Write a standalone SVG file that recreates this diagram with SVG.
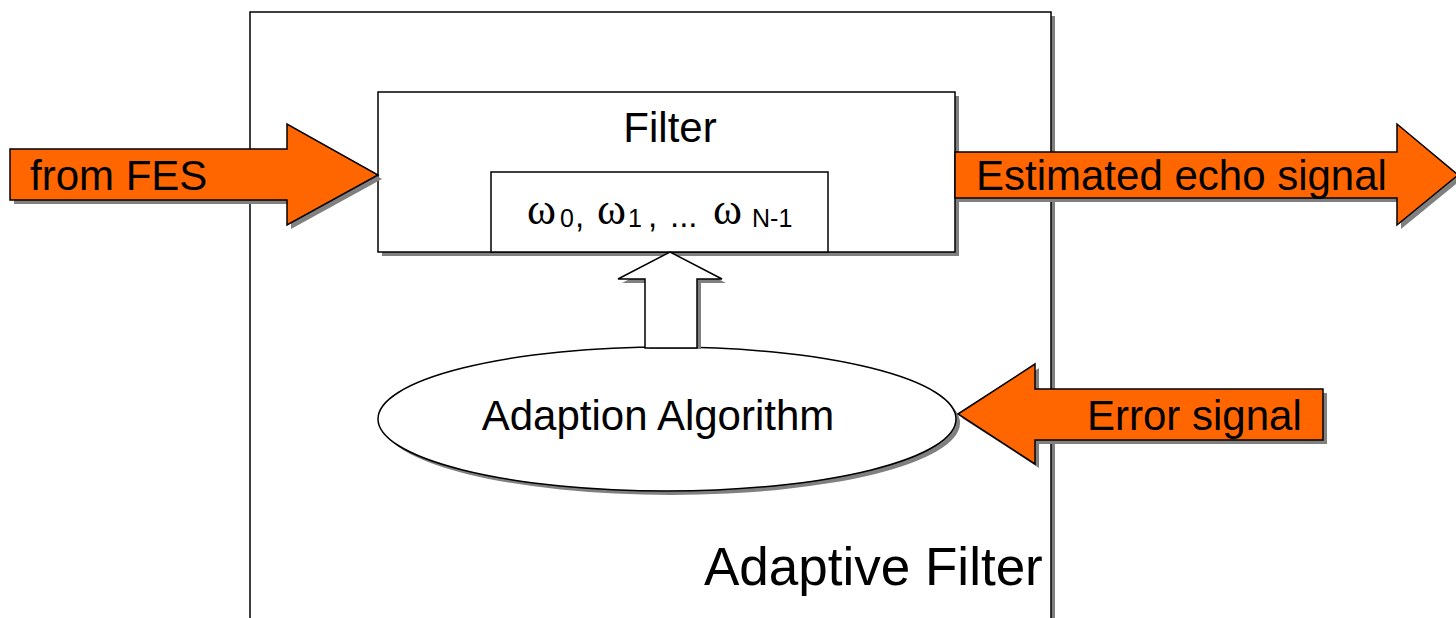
<svg xmlns="http://www.w3.org/2000/svg" width="1456" height="618" viewBox="0 0 1456 618">
  <style>
    .box { fill: #ffffff; stroke: #000000; stroke-width: 1.5; }
    .shadow { fill: #808080; stroke: none; }
    .flow { fill: #ff6600; stroke: #000000; stroke-width: 1.5; stroke-linejoin: miter; }
    .label { font-family: "Liberation Sans", Arial, sans-serif; font-size: 42px; fill: #000000; }
    .title { font-size: 53px; }
    .greek { font-family: "Liberation Serif", "Times New Roman", serif; font-size: 44px; }
    .sub { font-size: 25px; }
    .punct { font-size: 33px; }
  </style>
  <rect width="1456" height="618" fill="#ffffff"/>

  <!-- outer adaptive filter frame -->
  <g id="adaptive-filter">
    <rect class="shadow" x="254" y="16" width="801" height="610"/>
    <rect class="box" x="250" y="12" width="801" height="610"/>
    <text class="label title" x="704" y="585">Adaptive Filter</text>
  </g>

  <!-- filter block with its weight vector -->
  <g id="filter">
    <rect class="shadow" x="382" y="96" width="577" height="160"/>
    <rect class="box" x="378" y="92" width="577" height="160"/>
    <text class="label" x="670" y="142" text-anchor="middle">Filter</text>
  </g>
  <g id="weights">
    <rect class="box" x="491" y="172" width="337" height="80"/>
    <text class="label" y="224"><tspan class="greek" x="527">ω</tspan><tspan class="sub" x="560" y="227">0</tspan><tspan class="punct" x="575" y="227">,</tspan><tspan class="greek" x="597" y="224">ω</tspan><tspan class="sub" x="628" y="227">1</tspan><tspan class="punct" x="648" y="227">,</tspan><tspan class="punct" x="670" y="227">...</tspan><tspan class="greek" x="713" y="224">ω</tspan><tspan class="sub" x="752" y="227">N-1</tspan></text>
  </g>

  <!-- adaption algorithm -->
  <g id="adaption-algorithm">
    <ellipse class="shadow" cx="671" cy="423" rx="289" ry="72"/>
    <ellipse class="box" cx="667" cy="419" rx="289" ry="72"/>
    <text class="label" x="658" y="430" text-anchor="middle">Adaption Algorithm</text>
  </g>

  <!-- connectors -->
  <g id="connectors">
    <!-- weight update arrow -->
    <path class="shadow" d="M 674 256 L 726 283 L 701 283 L 701 349 L 649 349 L 649 283 L 622 283 Z"/>
    <path class="box" d="M 670 252 L 722 279 L 697 279 L 697 348 L 645 348 L 645 279 L 618 279 Z"/>

    <!-- input: from FES -->
    <path class="shadow" d="M 14 153 L 291 153 L 291 128 L 382 179 L 291 229 L 291 204 L 14 204 Z"/>
    <path class="flow" d="M 10 149 L 287 149 L 287 124 L 378 175 L 287 225 L 287 200 L 10 200 Z"/>
    <text class="label" x="30" y="190">from FES</text>

    <!-- output: estimated echo signal -->
    <path class="shadow" d="M 959 156 L 1401 156 L 1401 128 L 1462 179 L 1401 229 L 1401 202 L 959 202 Z"/>
    <path class="flow" d="M 955 152 L 1397 152 L 1397 124 L 1458 175 L 1397 225 L 1397 198 L 955 198 Z"/>
    <text class="label" x="976" y="190">Estimated echo signal</text>

    <!-- feedback: error signal -->
    <path class="shadow" d="M 962 418 L 1039 368 L 1039 393 L 1327 393 L 1327 444 L 1039 444 L 1039 468 Z"/>
    <path class="flow" d="M 958 414 L 1035 364 L 1035 389 L 1323 389 L 1323 440 L 1035 440 L 1035 464 Z"/>
    <text class="label" x="1087" y="430">Error signal</text>
  </g>
</svg>
